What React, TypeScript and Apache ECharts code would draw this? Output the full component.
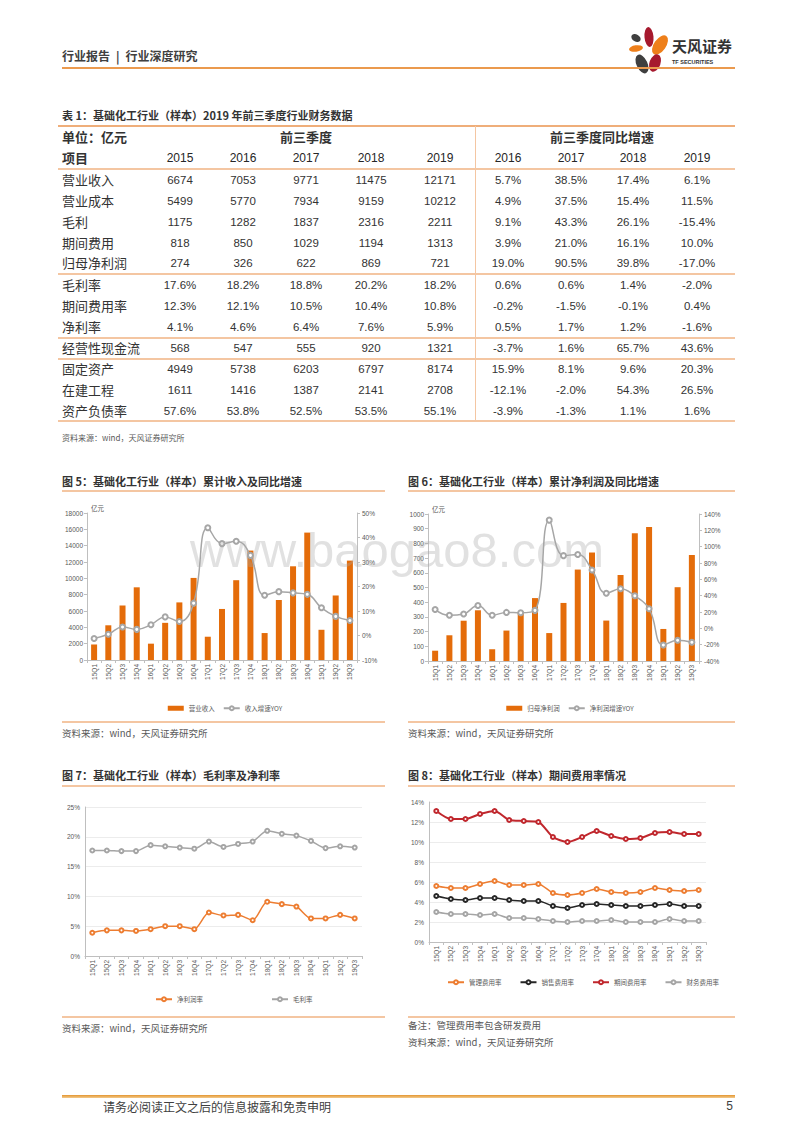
import React, { useEffect, useRef } from 'react';
import * as echarts from 'echarts';

// ---------------- DATA ----------------
const quarters = ['15Q1','15Q2','15Q3','15Q4','16Q1','16Q2','16Q3','16Q4','17Q1','17Q2','17Q3','17Q4','18Q1','18Q2','18Q3','18Q4','19Q1','19Q2','19Q3'];

const revenue = [1900, 4250, 6674, 8900, 2000, 4550, 7053, 10050, 2850, 6250, 9771, 13400, 3300, 7350, 11475, 15600, 3700, 7900, 12171];
const revenueYoy = [-1.2, 0.5, 3.5, 2.5, 4.4, 7.6, 5.7, 13.2, 44.0, 37.5, 38.5, 32.7, 16.4, 17.9, 17.4, 16.8, 11.3, 7.8, 6.1];

const profit = [70, 175, 274, 345, 80, 207, 326, 428, 190, 395, 622, 738, 275, 585, 869, 912, 218, 502, 721];
const profitYoy = [23, 16, 17.6, 28, 16, 19.5, 19.0, 22, 132.5, 89, 90.5, 71.5, 43, 48.5, 39.8, 24, -20.5, -14.5, -17.0];

const netMargin = [3.9, 4.3, 4.3, 4.2, 4.5, 5.0, 5.0, 4.5, 7.3, 6.8, 6.9, 6.0, 9.1, 8.7, 8.3, 6.3, 6.3, 6.9, 6.3];
const grossMargin = [17.7, 17.7, 17.6, 17.6, 18.6, 18.4, 18.2, 18.0, 19.2, 18.3, 18.8, 19.2, 21.0, 20.5, 20.2, 19.3, 18.1, 18.4, 18.2];

const mgmtRate = [5.6, 5.4, 5.4, 5.8, 6.1, 5.7, 5.7, 5.8, 4.9, 4.7, 4.9, 5.3, 5.0, 4.9, 5.0, 5.4, 5.2, 5.1, 5.2];
const salesRate = [4.6, 4.3, 4.2, 4.4, 4.4, 4.2, 4.1, 4.1, 3.6, 3.4, 3.7, 3.8, 3.7, 3.6, 3.6, 3.7, 3.8, 3.6, 3.6];
const periodRate = [13.1, 12.3, 12.3, 12.8, 13.1, 12.2, 12.1, 12.0, 10.5, 10.0, 10.5, 11.1, 10.6, 10.3, 10.4, 10.9, 11.0, 10.8, 10.8];
const finRate = [3.0, 2.8, 2.8, 2.7, 2.8, 2.4, 2.4, 2.3, 2.1, 2.0, 2.1, 2.1, 2.2, 2.0, 2.0, 2.0, 2.3, 2.1, 2.1];

const tableYears = ['2015', '2016', '2017', '2018', '2019'];
const growthYears = ['2016', '2017', '2018', '2019'];
const rowNames = ['营业收入', '营业成本', '毛利', '期间费用', '归母净利润', '毛利率', '期间费用率', '净利率', '经营性现金流', '固定资产', '在建工程', '资产负债率'];
const rowValues = [
  ['6674', '7053', '9771', '11475', '12171'],
  ['5499', '5770', '7934', '9159', '10212'],
  ['1175', '1282', '1837', '2316', '2211'],
  ['818', '850', '1029', '1194', '1313'],
  ['274', '326', '622', '869', '721'],
  ['17.6%', '18.2%', '18.8%', '20.2%', '18.2%'],
  ['12.3%', '12.1%', '10.5%', '10.4%', '10.8%'],
  ['4.1%', '4.6%', '6.4%', '7.6%', '5.9%'],
  ['568', '547', '555', '920', '1321'],
  ['4949', '5738', '6203', '6797', '8174'],
  ['1611', '1416', '1387', '2141', '2708'],
  ['57.6%', '53.8%', '52.5%', '53.5%', '55.1%'],
];
const rowGrowth = [
  ['5.7%', '38.5%', '17.4%', '6.1%'],
  ['4.9%', '37.5%', '15.4%', '11.5%'],
  ['9.1%', '43.3%', '26.1%', '-15.4%'],
  ['3.9%', '21.0%', '16.1%', '10.0%'],
  ['19.0%', '90.5%', '39.8%', '-17.0%'],
  ['0.6%', '0.6%', '1.4%', '-2.0%'],
  ['-0.2%', '-1.5%', '-0.1%', '0.4%'],
  ['0.5%', '1.7%', '1.2%', '-1.6%'],
  ['-3.7%', '1.6%', '65.7%', '43.6%'],
  ['15.9%', '8.1%', '9.6%', '20.3%'],
  ['-12.1%', '-2.0%', '54.3%', '26.5%'],
  ['-3.9%', '-1.3%', '1.1%', '1.6%'],
];

// ---------------- STYLE ----------------
const CJK = '"Noto Sans CJK SC", "Noto Sans", sans-serif';
const LAT = '"Liberation Sans", Arial, "Noto Sans CJK SC", sans-serif';
const PEACH = '#F4C6A2';
const AX = '#595959';

const rowY = [180, 201, 222, 243, 263, 285, 306, 327, 348, 369, 390, 411];
const colX = [180, 243, 306, 371, 440];
const gcolX = [508, 571, 633, 697];

function Txt(p: { x: number; y: number; size: number; text: string; bold?: boolean | number; color?: string; align?: 'left' | 'center' | 'right'; w?: number; family?: string }) {
  const lh = Math.round(p.size * 1.4);
  const w = p.w ?? 200;
  const align = p.align ?? 'left';
  let left = p.x;
  if (align === 'center') left = p.x - w / 2;
  if (align === 'right') left = p.x - w;
  return (
    <div style={{
      position: 'absolute', left, top: p.y - lh / 2, width: align === 'left' ? undefined : w,
      textAlign: align, fontSize: p.size, lineHeight: lh + 'px', whiteSpace: 'pre',
      fontWeight: p.bold === true ? 700 : (p.bold || 400) as any, color: p.color ?? '#333',
      fontFamily: p.family ?? CJK,
    }}>{p.text}</div>
  );
}

function HLine(p: { x1: number; x2: number; y: number; h?: number; color?: string }) {
  const h = p.h ?? 2;
  return <div style={{ position: 'absolute', left: p.x1, top: p.y - h / 2, width: p.x2 - p.x1, height: h, background: p.color ?? PEACH }} />;
}

function Chart(p: { left: number; top: number; width: number; height: number; option: any }) {
  const ref = useRef<HTMLDivElement>(null);
  useEffect(() => {
    const c = echarts.init(ref.current as HTMLDivElement, undefined, { renderer: 'svg' });
    c.setOption(p.option);
    return () => c.dispose();
  }, []);
  return <div ref={ref} style={{ position: 'absolute', left: p.left, top: p.top, width: p.width, height: p.height }} />;
}

const xCat = () => ({
  type: 'category',
  data: quarters,
  boundaryGap: true,
  axisLine: { lineStyle: { color: '#bfbfbf', width: 1 } },
  axisTick: { show: true, length: 3, lineStyle: { color: '#bfbfbf' } },
  axisLabel: { rotate: 90, interval: 0, fontSize: 6.5, color: AX, margin: 4, fontFamily: LAT },
});

const plain = (v: number) => String(v);
const pct = (v: number) => v + '%';
const legendText = { fontSize: 6.5, color: AX, fontFamily: CJK };

const leftAxis = (max: number, interval: number) => ({
  type: 'value', min: 0, max, interval,
  name: '亿元', nameLocation: 'end', nameGap: 2,
  nameTextStyle: { fontSize: 6.5, color: AX, align: 'left', padding: [0, 0, 0, 4], fontFamily: CJK },
  axisLine: { show: true, lineStyle: { color: '#bfbfbf' } },
  axisTick: { show: true, length: 3, lineStyle: { color: '#bfbfbf' } },
  axisLabel: { fontSize: 6.5, color: AX, margin: 4, fontFamily: LAT, formatter: plain },
  splitLine: { show: false },
});

const rightAxis = (min: number, max: number, interval: number) => ({
  type: 'value', min, max, interval, position: 'right',
  axisLine: { show: true, lineStyle: { color: '#bfbfbf' } },
  axisTick: { show: true, length: 3, lineStyle: { color: '#bfbfbf' } },
  axisLabel: { fontSize: 6.5, color: AX, margin: 5, formatter: pct, fontFamily: LAT },
  splitLine: { show: false },
});

const opt5 = {
  animation: false,
  grid: { left: 32, right: 38, top: 18, bottom: 60 },
  xAxis: xCat(),
  yAxis: [leftAxis(18000, 2000), rightAxis(-10, 50, 10)],
  legend: {
    top: 205, left: 'center', itemGap: 8, itemWidth: 16, itemHeight: 5, textStyle: legendText,
    data: [{ name: '营业收入', icon: 'rect' }, { name: '收入增速YOY' }],
  },
  series: [
    { type: 'bar', name: '营业收入', data: revenue, barWidth: 6, itemStyle: { color: '#E46C0A' } },
    {
      type: 'line', name: '收入增速YOY', yAxisIndex: 1, data: revenueYoy, smooth: 0.45,
      symbol: 'emptyCircle', symbolSize: 5,
      lineStyle: { color: '#A6A6A6', width: 1.5 }, itemStyle: { color: '#A6A6A6', borderWidth: 1.2 },
    },
  ],
};

const opt6 = {
  animation: false,
  grid: { left: 28, right: 41, top: 19, bottom: 59 },
  xAxis: xCat(),
  yAxis: [leftAxis(1000, 100), rightAxis(-40, 140, 20)],
  legend: {
    top: 205, left: 'center', itemGap: 8, itemWidth: 16, itemHeight: 5, textStyle: legendText,
    data: [{ name: '归母净利润', icon: 'rect' }, { name: '净利润增速YOY' }],
  },
  series: [
    { type: 'bar', name: '归母净利润', data: profit, barWidth: 6, itemStyle: { color: '#E46C0A' } },
    {
      type: 'line', name: '净利润增速YOY', yAxisIndex: 1, data: profitYoy, smooth: 0.45,
      symbol: 'emptyCircle', symbolSize: 5,
      lineStyle: { color: '#A6A6A6', width: 1.5 }, itemStyle: { color: '#A6A6A6', borderWidth: 1.2 },
    },
  ],
};

const lineSeries = (name: string, data: number[], color: string, width = 1.5) => ({
  type: 'line', name, data, smooth: 0.25, symbol: 'emptyCircle', symbolSize: 4,
  lineStyle: { color, width }, itemStyle: { color, borderWidth: 1.1 },
});

const pctAxis = (max: number, interval: number) => ({
  type: 'value', min: 0, max, interval,
  axisLine: { show: true, lineStyle: { color: '#bfbfbf' } },
  axisTick: { show: false },
  axisLabel: { fontSize: 6.5, color: AX, margin: 5, formatter: pct, fontFamily: LAT },
  splitLine: { show: true, lineStyle: { color: '#ececec', width: 1 } },
});

const opt7 = {
  animation: false,
  grid: { left: 30, right: 33, top: 17, bottom: 59 },
  xAxis: xCat(),
  yAxis: pctAxis(25, 5),
  legend: {
    top: 201, left: 95, itemGap: 68, itemWidth: 16, itemHeight: 5, textStyle: legendText,
    data: ['净利润率', '毛利率'],
  },
  series: [
    lineSeries('净利润率', netMargin, '#ED7D31'),
    lineSeries('毛利率', grossMargin, '#A5A5A5'),
  ],
};

const opt8 = {
  animation: false,
  grid: { left: 29, right: 34, top: 12, bottom: 73 },
  xAxis: xCat(),
  yAxis: pctAxis(14, 2),
  legend: {
    top: 184, left: 42, itemGap: 18, itemWidth: 16, itemHeight: 5, textStyle: legendText,
    data: ['管理费用率', '销售费用率', '期间费用率', '财务费用率'],
  },
  series: [
    lineSeries('管理费用率', mgmtRate, '#ED7D31'),
    lineSeries('销售费用率', salesRate, '#262626'),
    lineSeries('期间费用率', periodRate, '#C0272D', 2),
    lineSeries('财务费用率', finRate, '#A5A5A5'),
  ],
};

function Logo() {
  return (
    <svg style={{ position: 'absolute', left: 620, top: 22 }} width={120} height={56} viewBox="620 22 120 56">
      <ellipse cx={636} cy={38} rx={5} ry={3.5} fill="#3f3f3f" transform="rotate(30 636 38)" />
      <ellipse cx={649} cy={37} rx={4.5} ry={10} fill="#A6192E" transform="rotate(-5 649 37)" />
      <ellipse cx={660} cy={45} rx={6} ry={11} fill="#EE7F1A" transform="rotate(35 660 45)" />
      <ellipse cx={636} cy={48.5} rx={7} ry={3.2} fill="#EE7F1A" transform="rotate(-8 636 48.5)" />
      <ellipse cx={642} cy={64} rx={5.5} ry={10} fill="#3f3f3f" transform="rotate(-25 642 64)" />
      <ellipse cx={655} cy={63} rx={5.5} ry={9} fill="#A6192E" transform="rotate(20 655 63)" />
      <text x={672} y={52} fontSize={15} fontWeight={700} fill="#333" fontFamily={CJK}>天风证券</text>
      <text x={672} y={63.5} fontSize={5.5} fontWeight={700} fill="#333" fontFamily={LAT}>TF SECURITIES</text>
    </svg>
  );
}

export default function App() {
  return (
    <div style={{ position: 'absolute', left: 0, top: 0, width: 800, height: 1132, background: '#fff', overflow: 'hidden', fontFamily: CJK }}>
      {/* header */}
      <Txt x={62} y={55} size={12} bold={600} text={'行业报告\u2002|\u2002行业深度研究'} color="#404040" />
      <Logo />
      <HLine x1={62} x2={735} y={68} h={2} color="#EB9A4E" />

      {/* table */}
      <Txt x={62} y={115} size={11} bold text="表 1：基础化工行业（样本）2019 年前三季度行业财务数据" />
      <HLine x1={58} x2={735} y={126} h={2} color="#EFAE7A" />
      <Txt x={62} y={137} size={13} bold text="单位：亿元" />
      <Txt x={306} y={137} size={13} bold align="center" text="前三季度" />
      <Txt x={602} y={137} size={13} bold align="center" text="前三季度同比增速" />
      <Txt x={62} y={158} size={13} bold text="项目" />
      {tableYears.map((t, i) => <Txt key={'ty' + i} x={colX[i]} y={158} size={12} w={60} align="center" family={LAT} text={t} color="#262626" />)}
      {growthYears.map((t, i) => <Txt key={'gy' + i} x={gcolX[i]} y={158} size={12} w={60} align="center" family={LAT} text={t} color="#262626" />)}
      <HLine x1={58} x2={735} y={169} h={2.5} />
      {rowNames.map((n, r) => (
        <React.Fragment key={'r' + r}>
          <Txt x={62} y={rowY[r]} size={13} text={n} />
          {rowValues[r].map((v, i) => <Txt key={'v' + i} x={colX[i]} y={rowY[r]} size={11.5} w={60} align="center" family={LAT} text={v} />)}
          {rowGrowth[r].map((v, i) => <Txt key={'g' + i} x={gcolX[i]} y={rowY[r]} size={11.5} w={60} align="center" family={LAT} text={v} />)}
        </React.Fragment>
      ))}
      <HLine x1={58} x2={735} y={274} h={2.5} />
      <HLine x1={58} x2={735} y={338} h={2.5} />
      <HLine x1={58} x2={735} y={359} h={2.5} />
      <HLine x1={58} x2={735} y={421} h={1.5} />
      <div style={{ position: 'absolute', left: 475, top: 126, width: 1, height: 295, background: PEACH }} />
      <Txt x={62} y={437} size={8} text="资料来源：wind，天风证券研究所" color="#595959" />

      {/* chart 5 & 6 titles */}
      <Txt x={62} y={481} size={11} bold text="图 5：基础化工行业（样本）累计收入及同比增速" />
      <HLine x1={62} x2={385} y={491} h={1.5} />
      <Txt x={408} y={481} size={11} bold text="图 6：基础化工行业（样本）累计净利润及同比增速" />
      <HLine x1={408} x2={735} y={491} h={1.5} />

      <Chart left={55} top={495} width={340} height={225} option={opt5} />
      <Chart left={400} top={495} width={340} height={225} option={opt6} />

      <HLine x1={62} x2={385} y={722} h={1.5} />
      <HLine x1={408} x2={735} y={722} h={1.5} />
      <Txt x={62} y={733} size={9.5} text="资料来源：wind，天风证券研究所" color="#595959" />
      <Txt x={408} y={733} size={9.5} text="资料来源：wind，天风证券研究所" color="#595959" />

      {/* chart 7 & 8 */}
      <Txt x={62} y={775} size={11} bold text="图 7：基础化工行业（样本）毛利率及净利率" />
      <HLine x1={62} x2={385} y={786} h={1.5} />
      <Txt x={408} y={775} size={11} bold text="图 8：基础化工行业（样本）期间费用率情况" />
      <HLine x1={408} x2={735} y={786} h={1.5} />

      <Chart left={55} top={790} width={340} height={225} option={opt7} />
      <Chart left={400} top={790} width={340} height={225} option={opt8} />

      <HLine x1={62} x2={385} y={1017} h={1.5} />
      <HLine x1={408} x2={735} y={1017} h={1.5} />
      <Txt x={62} y={1028} size={9.5} text="资料来源：wind，天风证券研究所" color="#595959" />
      <Txt x={408} y={1025} size={9.5} text="备注：管理费用率包含研发费用" color="#595959" />
      <Txt x={408} y={1042} size={9.5} text="资料来源：wind，天风证券研究所" color="#595959" />

      {/* watermark */}
      <div style={{ position: 'absolute', left: 190, top: 525, fontSize: 49, lineHeight: '50px', fontFamily: LAT, color: 'rgba(170,170,170,0.35)', whiteSpace: 'nowrap', pointerEvents: 'none' }}>www.baogao8.com</div>

      {/* footer */}
      <div style={{ position: 'absolute', left: 62, top: 1095, width: 673, height: 2.5, background: 'linear-gradient(to bottom, #E3952F, #F3CB8E)' }} />
      <Txt x={103} y={1106} size={12} text="请务必阅读正文之后的信息披露和免责申明" color="#404040" />
      <Txt x={733} y={1106} size={12} align="right" w={20} family={LAT} text="5" color="#404040" />
    </div>
  );
}
